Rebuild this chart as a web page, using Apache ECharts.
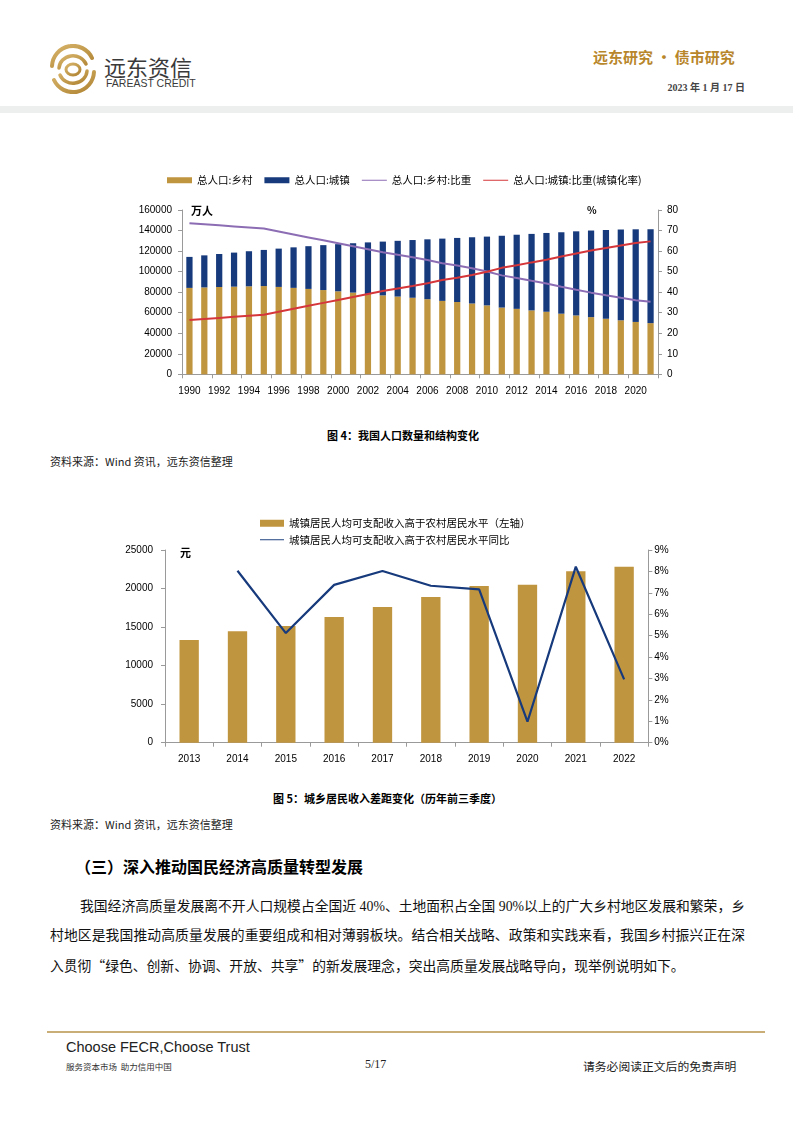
<!DOCTYPE html>
<html>
<head>
<meta charset="utf-8">
<script src="https://cdn.jsdelivr.net/npm/echarts@6/dist/echarts.min.js"></script>
<style>
html,body{margin:0;padding:0;background:#fff;}
body{width:793px;height:1122px;position:relative;overflow:hidden;font-family:"Noto Sans CJK SC","Liberation Sans",sans-serif;color:#000;}
.abs{position:absolute;white-space:nowrap;}
.cap{font-weight:bold;font-size:11px;}
.src{font-size:11px;color:#222;}
#c1{position:absolute;left:0;top:150px;width:793px;height:270px;}
#c2{position:absolute;left:0;top:500px;width:793px;height:280px;}
.pl{position:absolute;font-size:13.8px;line-height:20px;color:#111;white-space:nowrap;font-family:"Liberation Serif","Noto Sans CJK SC",serif;}
.j{text-align:justify;text-align-last:justify;}
.q{font-family:"Noto Sans CJK SC";}
</style>
</head>
<body>
<!-- header -->
<svg class="abs" style="left:46px;top:44px" width="54" height="50" viewBox="0 0 54 50">
  <defs><linearGradient id="g" x1="0" y1="0" x2="1" y2="1"><stop offset="0" stop-color="#D7B46A"/><stop offset="1" stop-color="#B08433"/></linearGradient></defs>
  <g fill="none" stroke="url(#g)" stroke-linecap="round">
    <path d="M6,22 A21,21 0 0 1 46,14" stroke-width="4"/>
    <path d="M48,28 A21,21 0 0 1 8,36" stroke-width="4"/>
    <path d="M13,24 A14,13 0 0 1 40,20" stroke-width="3.5"/>
    <path d="M41,27 A14,13 0 0 1 14,31" stroke-width="3.5"/>
    <ellipse cx="27" cy="25.5" rx="7" ry="5.5" stroke-width="3"/>
  </g>
</svg>
<div class="abs" style="left:104px;top:50px;font-size:22px;color:#3a3a3a;">远东资信</div>
<div class="abs" style="left:106px;top:77px;font-size:10.5px;color:#3a3a3a;font-family:'Liberation Sans',sans-serif;">FAREAST CREDIT</div>
<div class="abs" style="left:593px;top:46px;font-size:15px;font-weight:bold;color:#B8862B;">远东研究 • 债市研究</div>
<div class="abs" style="right:48px;top:79px;font-size:10px;font-weight:bold;color:#444;font-family:'Liberation Serif','Noto Sans CJK SC',serif;">2023 年 1 月 17 日</div>
<div class="abs" style="left:0;top:106px;width:793px;height:7px;background:#EDEFEF;"></div>

<!-- chart 1 -->
<div id="c1"></div>
<div class="abs" style="left:191px;top:202px;font-size:11px;font-weight:bold;">万人</div>
<div class="abs" style="left:587px;top:202px;font-size:10px;font-weight:bold;">%</div>
<div class="abs cap" style="left:327px;top:427px;">图 4：我国人口数量和结构变化</div>
<div class="abs src" style="left:50px;top:453px;">资料来源：Wind 资讯，远东资信整理</div>

<!-- chart 2 -->
<div id="c2"></div>
<div class="abs" style="left:180px;top:544px;font-size:11px;font-weight:bold;">元</div>
<div class="abs cap" style="left:273px;top:790px;">图 5：城乡居民收入差距变化（历年前三季度）</div>
<div class="abs src" style="left:50px;top:816px;">资料来源：Wind 资讯，远东资信整理</div>

<!-- text -->
<div class="abs" style="left:75px;top:854px;font-size:16px;font-weight:bold;">（三）深入推动国民经济高质量转型发展</div>
<div class="pl j" style="left:80px;top:897px;width:665px;">我国经济高质量发展离不开人口规模占全国近 40%、土地面积占全国 90%以上的广大乡村地区发展和繁荣，乡</div>
<div class="pl j" style="left:50px;top:926px;width:695px;">村地区是我国推动高质量发展的重要组成和相对薄弱板块。结合相关战略、政策和实践来看，我国乡村振兴正在深</div>
<div class="pl" style="left:50px;top:955px;">入贯彻<span class="q">“</span>绿色、创新、协调、开放、共享<span class="q">”</span>的新发展理念，突出高质量发展战略导向，现举例说明如下。</div>

<!-- footer -->
<div class="abs" style="left:47px;top:1031px;width:718px;height:2px;background:#C9AE78;"></div>
<div class="abs" style="left:66px;top:1039px;font-size:14.5px;color:#222;font-family:'Liberation Sans Narrow','Liberation Sans',sans-serif;">Choose FECR,Choose Trust</div>
<div class="abs" style="left:66px;top:1060px;font-size:8.5px;color:#333;">服务资本市场&nbsp;&nbsp;助力信用中国</div>
<div class="abs" style="left:365px;top:1057px;font-size:12px;color:#222;font-family:'Liberation Serif',serif;">5/17</div>
<div class="abs" style="left:583px;top:1057px;font-size:11.8px;color:#222;">请务必阅读正文后的免责声明</div>

<script>
// ---------- Chart 1 data ----------
const years = ['1990','1991','1992','1993','1994','1995','1996','1997','1998','1999','2000','2001','2002','2003','2004','2005','2006','2007','2008','2009','2010','2011','2012','2013','2014','2015','2016','2017','2018','2019','2020','2021'];
const ruralPop = [84138,84620,84996,85344,85681,85947,85085,84177,83153,82038,80837,79563,78241,76851,75705,74544,73160,71496,70399,68938,67113,64989,63747,62224,60908,59024,57308,55668,54108,52582,50992,49835];
const urbanPop = [30195,31203,32175,33173,34169,35174,37304,39449,41608,43748,45906,48064,50212,52376,54283,56212,58288,60633,62403,64512,66978,69927,72175,74502,76738,79302,81924,84343,86433,88426,90220,91425];
const ruralShare = [73.59,73.06,72.54,72.01,71.49,70.96,69.52,68.09,66.65,65.22,63.78,62.34,60.91,59.47,58.24,57.01,55.66,54.11,53.01,51.66,50.05,48.17,46.90,45.51,44.25,42.67,41.16,39.76,38.50,37.29,36.11,35.28];
const urbanShare = [26.41,26.94,27.46,27.99,28.51,29.04,30.48,31.91,33.35,34.78,36.22,37.66,39.09,40.53,41.76,42.99,44.34,45.89,46.99,48.34,49.95,51.83,53.10,54.49,55.75,57.33,58.84,60.24,61.50,62.71,63.89,64.72];
const names1 = ['总人口:乡村','总人口:城镇','总人口:乡村:比重','总人口:城镇:比重(城镇化率)'];

// ---------- Chart 2 data ----------
const years2 = ['2013','2014','2015','2016','2017','2018','2019','2020','2021','2022'];
const incomeGap = [13320,14450,15140,16300,17600,18900,20330,20500,22240,22840];
const incomeGapYoY = [null,8.03,5.12,7.37,8.02,7.33,7.16,0.98,8.22,2.96];
const names2 = ['城镇居民人均可支配收入高于农村居民水平（左轴）','城镇居民人均可支配收入高于农村居民水平同比'];

const GOLD = '#C0953F', NAVY = '#173A7C', PURPLE = '#8C6DB4', RED = '#D5363A';
const AX = '#9A9A9A';
const FONT = 'Liberation Sans';
const lineIcon = 'path://M0,0 L25,0 L25,1 L0,1 Z';

function yAxisStyle(side, min, max, interval, fmt, margin){
  return {
    type:'value', position:side, min:min, max:max, interval:interval,
    splitLine:{show:false},
    axisLine:{show:true,lineStyle:{color:AX,width:1}},
    axisTick:{show:true,length:4,lineStyle:{color:AX}},
    axisLabel:{color:'#000',fontSize:10,fontFamily:FONT,margin:margin,formatter:fmt}
  };
}
const plain = v => String(v);
const pct = v => v + '%';

const c1 = echarts.init(document.getElementById('c1'), null, {renderer:'canvas'});
c1.setOption({
  animation:false,
  legend:{
    left:162, top:20, itemGap:12, itemWidth:25, itemHeight:6,
    textStyle:{fontSize:10.5,color:'#000',fontFamily:'Noto Sans CJK SC'},
    data:[
      {name:names1[0],icon:'rect'},
      {name:names1[1],icon:'rect'},
      {name:names1[2],icon:lineIcon},
      {name:names1[3],icon:lineIcon}
    ]
  },
  grid:{left:182,right:135,top:60,bottom:45.7,containLabel:false},
  xAxis:{
    type:'category', data:years, boundaryGap:true,
    axisLine:{lineStyle:{color:AX}},
    axisTick:{show:true,interval:1,length:4,lineStyle:{color:AX}},
    axisLabel:{interval:1,color:'#000',fontSize:10,fontFamily:FONT,margin:12}
  },
  yAxis:[
    yAxisStyle('left',0,160000,20000,plain,10),
    yAxisStyle('right',0,80,10,plain,9)
  ],
  series:[
    {name:names1[0],type:'bar',stack:'pop',data:ruralPop,barWidth:'42%',itemStyle:{color:GOLD}},
    {name:names1[1],type:'bar',stack:'pop',data:urbanPop,barWidth:'42%',itemStyle:{color:NAVY}},
    {name:names1[2],type:'line',yAxisIndex:1,data:ruralShare,symbol:'none',lineStyle:{color:PURPLE,width:2},itemStyle:{color:PURPLE}},
    {name:names1[3],type:'line',yAxisIndex:1,data:urbanShare,symbol:'none',lineStyle:{color:RED,width:2},itemStyle:{color:RED}}
  ]
});

const c2 = echarts.init(document.getElementById('c2'), null, {renderer:'canvas'});
c2.setOption({
  animation:false,
  legend:{
    orient:'vertical', left:255, top:13, itemGap:6, itemWidth:24, itemHeight:7,
    textStyle:{fontSize:10.5,color:'#000',fontFamily:'Noto Sans CJK SC'},
    data:[
      {name:names2[0],icon:'rect'},
      {name:names2[1],icon:lineIcon}
    ]
  },
  grid:{left:165,right:144.7,top:50,bottom:37.3,containLabel:false},
  xAxis:{
    type:'category', data:years2, boundaryGap:true,
    axisLine:{lineStyle:{color:AX}},
    axisTick:{show:true,length:4,lineStyle:{color:AX}},
    axisLabel:{color:'#000',fontSize:10,fontFamily:FONT,margin:12}
  },
  yAxis:[
    yAxisStyle('left',0,25000,5000,plain,12),
    yAxisStyle('right',0,9,1,pct,6)
  ],
  series:[
    {name:names2[0],type:'bar',data:incomeGap,barWidth:'40%',itemStyle:{color:GOLD}},
    {name:names2[1],type:'line',yAxisIndex:1,data:incomeGapYoY,symbol:'none',connectNulls:false,lineStyle:{color:NAVY,width:2.2},itemStyle:{color:NAVY}}
  ]
});
</script>
</body>
</html>
